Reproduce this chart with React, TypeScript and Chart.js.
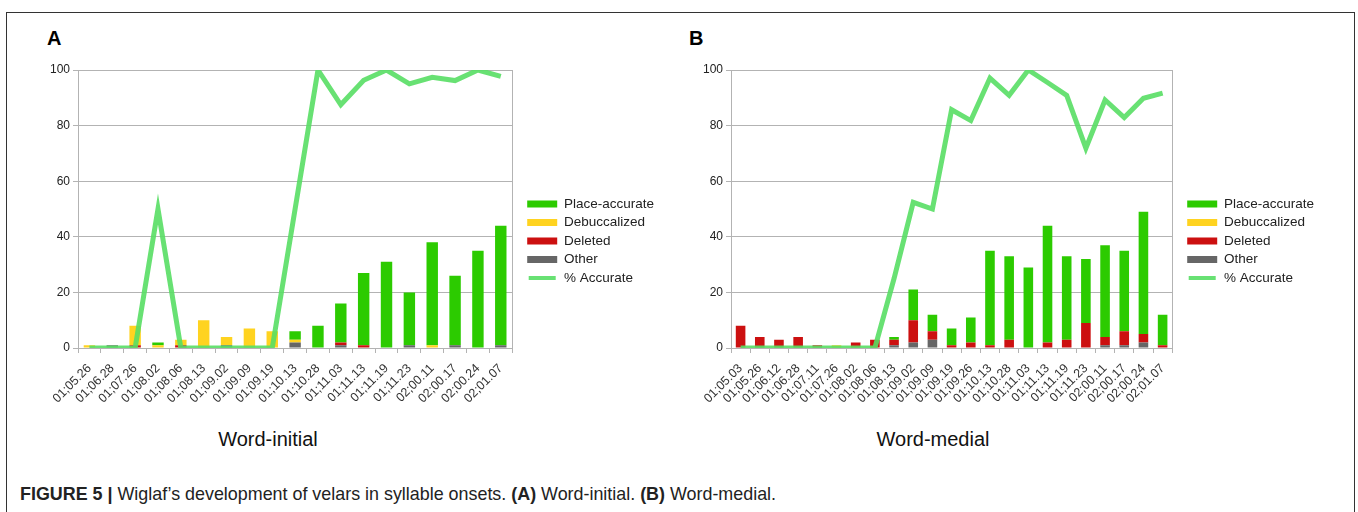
import React, { useEffect, useRef } from "react";
import { Chart, registerables } from "chart.js";
Chart.register(...registerables);

// ---------- data ----------
const labelsA = ["01;05.26", "01;06.28", "01;07.26", "01;08.02", "01;08.06", "01;08.13", "01;09.02", "01;09.09", "01;09.19", "01;10.13", "01;10.28", "01;11.03", "01;11.13", "01;11.19", "01;11.23", "02;00.11", "02;00.17", "02;00.24", "02;01.07"];
const placeA = [0, 0, 0, 1, 0, 0, 0, 0, 0, 3, 8, 14, 26, 31, 19, 37, 25, 35, 43];
const debuccA = [1, 0, 7, 1, 2, 10, 3, 7, 6, 1, 0, 0, 0, 0, 0, 1, 0, 0, 0];
const deletedA = [0, 0, 1, 0, 1, 0, 0, 0, 0, 0, 0, 1, 1, 0, 0, 0, 0, 0, 0];
const otherA = [0, 1, 0, 0, 0, 0, 1, 0, 0, 2, 0, 1, 0, 0, 1, 0, 1, 0, 1];
const pctA = [0, 0, 0, 50, 0, 0, 0, 0, 0, 50, 100, 87.5, 96.3, 100, 95, 97.4, 96.2, 100, 97.7];

const labelsB = ["01;05.03", "01;05.26", "01;06.12", "01;06.28", "01;07.11", "01;07.26", "01;08.02", "01;08.06", "01;08.13", "01;09.02", "01;09.09", "01;09.19", "01;09.26", "01;10.13", "01;10.28", "01;11.03", "01;11.13", "01;11.19", "01;11.23", "02;00.11", "02;00.17", "02;00.24", "02;01.07"];
const placeB = [0, 0, 0, 0, 0, 0, 0, 0, 1, 11, 6, 6, 9, 34, 30, 29, 42, 30, 23, 33, 29, 44, 11];
const debuccB = [0, 0, 0, 0, 0, 1, 0, 0, 0, 0, 0, 0, 0, 0, 0, 0, 0, 0, 0, 0, 0, 0, 0];
const deletedB = [8, 4, 3, 4, 1, 0, 2, 3, 2, 8, 3, 1, 2, 1, 3, 0, 2, 3, 9, 3, 5, 3, 1];
const otherB = [0, 0, 0, 0, 0, 0, 0, 0, 1, 2, 3, 0, 0, 0, 0, 0, 0, 0, 0, 1, 1, 2, 0];
const pctB = [0, 0, 0, 0, 0, 0, 0, 0, 25, 52.4, 50, 85.7, 81.8, 97.1, 90.9, 100, 95.5, 90.9, 71.9, 89.2, 82.9, 89.8, 91.7];

const yTicks = [0, 20, 40, 60, 80, 100];

// ---------- styles ----------
const GREEN = "#2ccb00";
const YELLOW = "#ffd320";
const RED = "#cc1010";
const GRAY = "#666666";
const LINE = "rgba(88,222,100,0.9)";
const GRID = "#b3b3b3";
const FONT = "'Liberation Sans', Arial, sans-serif";

const legendRank: Record<string, number> = {
  "Place-accurate": 0,
  Debuccalized: 1,
  Deleted: 2,
  Other: 3,
  "% Accurate": 4,
};

const frameBorder = {
  id: "frameBorder",
  beforeDatasetsDraw(chart: any) {
    const { ctx, chartArea } = chart;
    ctx.save();
    ctx.strokeStyle = GRID;
    ctx.lineWidth = 1;
    ctx.strokeRect(
      Math.round(chartArea.left) + 0.5,
      Math.round(chartArea.top) + 0.5,
      Math.round(chartArea.right - chartArea.left),
      Math.round(chartArea.bottom - chartArea.top)
    );
    ctx.restore();
  },
};

function makeConfig(labels: string[], place: number[], debucc: number[], deleted: number[], other: number[], pct: number[]): any {
  const barCommon = { stack: "bars", order: 2, categoryPercentage: 0.5, barPercentage: 1, borderWidth: 0 };
  return {
    type: "bar",
    data: {
      labels,
      datasets: [
        { label: "Other", data: other, backgroundColor: GRAY, ...barCommon },
        { label: "Deleted", data: deleted, backgroundColor: RED, ...barCommon },
        { label: "Debuccalized", data: debucc, backgroundColor: YELLOW, ...barCommon },
        { label: "Place-accurate", data: place, backgroundColor: GREEN, ...barCommon },
        {
          type: "line",
          label: "% Accurate",
          data: pct,
          borderColor: LINE,
          backgroundColor: LINE,
          borderWidth: 5,
          pointRadius: 0,
          tension: 0,
          stack: "pct",
          order: 1,
          borderJoinStyle: "miter",
        },
      ],
    },
    options: {
      responsive: false,
      animation: false,
      devicePixelRatio: 1,
      layout: { padding: { top: 15, right: 10, bottom: 6, left: 0 } },
      plugins: {
        title: { display: false },
        tooltip: { enabled: false },
        legend: {
          position: "right",
          align: "center",
          maxWidth: 220,
          labels: {
            boxWidth: 30,
            boxHeight: 7,
            padding: 5,
            color: "#222",
            font: { size: 13.5, family: FONT },
            sort: (a: any, b: any) => legendRank[a.text] - legendRank[b.text],
            generateLabels: (chart: any) => {
              const items = Chart.defaults.plugins.legend.labels.generateLabels(chart);
              return items.map((it: any) => {
                if (it.text === "% Accurate") {
                  return { ...it, fillStyle: LINE, strokeStyle: "#ffffff", lineWidth: 3, lineDash: [] };
                }
                return { ...it, lineWidth: 0 };
              });
            },
          },
        },
      },
      scales: {
        x: {
          stacked: true,
          grid: { display: true, drawOnChartArea: false, drawTicks: true, tickLength: 5, color: GRID, offset: true },
          border: { display: true, color: GRID },
          ticks: { minRotation: 45, maxRotation: 45, autoSkip: false, color: "#333", font: { size: 12.5, family: FONT }, padding: 8 },
          afterFit: (s: any) => { s.height = 64; },
        },
        y: {
          stacked: true,
          min: 0,
          max: 100,
          afterBuildTicks: (s: any) => { s.ticks = yTicks.map((v) => ({ value: v })); },
          grid: { color: GRID, tickLength: 5 },
          border: { display: true, color: GRID },
          ticks: { color: "#222", font: { size: 12, family: FONT }, padding: 3 },
          afterFit: (s: any) => { s.width = 48; },
        },
        gap: {
          type: "linear",
          position: "right",
          display: true,
          grid: { display: false, drawTicks: false },
          border: { display: false },
          ticks: { display: false },
          afterFit: (s: any) => { s.width = 10; },
        },
      },
    },
    plugins: [frameBorder],
  };
}

function Panel(props: { left: number; width: number; cfg: () => any }) {
  const ref = useRef<HTMLCanvasElement | null>(null);
  useEffect(() => {
    if (!ref.current) return;
    const chart = new Chart(ref.current, props.cfg());
    return () => chart.destroy();
  }, []);
  return (
    <canvas
      ref={ref}
      width={props.width}
      height={363}
      style={{ position: "absolute", left: props.left, top: 55, width: props.width, height: 363 }}
    />
  );
}

export default function App() {
  return (
    <div style={{ position: "absolute", left: 0, top: 0, width: 1358, height: 512, background: "#fff", overflow: "hidden", fontFamily: FONT }}>
      <div style={{ position: "absolute", left: 6, top: 12, width: 1349, height: 520, border: "1px solid #333", boxSizing: "border-box" }} />
      <div style={{ position: "absolute", left: 47, top: 27, fontSize: 20, fontWeight: "bold", color: "#000" }}>A</div>
      <div style={{ position: "absolute", left: 689, top: 27, fontSize: 20, fontWeight: "bold", color: "#000" }}>B</div>
      <Panel left={30} width={644} cfg={() => makeConfig(labelsA, placeA, debuccA, deletedA, otherA, pctA)} />
      <Panel left={683} width={651} cfg={() => makeConfig(labelsB, placeB, debuccB, deletedB, otherB, pctB)} />
      <div style={{ position: "absolute", left: 168, width: 200, top: 428, textAlign: "center", fontSize: 20, color: "#111", lineHeight: "23px" }}>Word-initial</div>
      <div style={{ position: "absolute", left: 833, width: 200, top: 428, textAlign: "center", fontSize: 20, color: "#111", lineHeight: "23px" }}>Word-medial</div>
      <div style={{ position: "absolute", left: 20, top: 484, fontSize: 17.9, color: "#222", whiteSpace: "nowrap", lineHeight: "20px" }}>
        <b>FIGURE 5 |</b> Wiglaf’s development of velars in syllable onsets. <b>(A)</b> Word-initial. <b>(B)</b> Word-medial.
      </div>
    </div>
  );
}
